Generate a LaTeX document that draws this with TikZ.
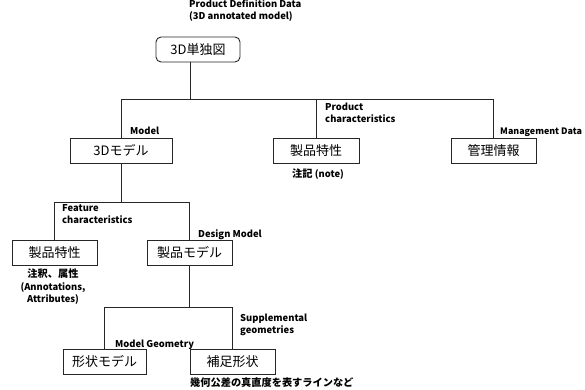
\documentclass[tikz,border=0pt]{standalone}
\usepackage{fontspec}
\setmainfont{Noto Sans CJK JP}
\newfontfamily\jpfont{Noto Sans CJK JP}
\begin{document}
\begin{tikzpicture}[x=1pt,y=-1pt,
  box/.style={draw=black!85,line width=0.9pt,inner sep=0pt,minimum height=25pt,font=\jpfont\fontsize{13}{15}\selectfont},
  lbl/.style={inner sep=0pt,anchor=base west,align=left,font=\jpfont\bfseries\fontsize{9.4}{12}\selectfont},
  jlbl/.style={lbl,font=\jpfont\bfseries\fontsize{10.2}{12}\selectfont},
  conn/.style={draw=black!85,line width=0.8pt}]
\useasboundingbox (0,0) rectangle (585,390);
% nodes
\node[box,rounded corners=5pt,minimum width=84pt] (top) at (198,49.5) {3D単独図};
\node[box,minimum width=102pt] (m3d) at (121,150.5) {3Dモデル};
\node[box,minimum width=86pt] (pc) at (316,150.5) {製品特性};
\node[box,minimum width=85pt] (mg) at (493.5,151) {管理情報};
\node[box,minimum width=85pt] (fc) at (54.5,252.5) {製品特性};
\node[box,minimum width=85pt] (dm) at (189.5,252.5) {製品モデル};
\node[box,minimum width=83pt] (gm) at (104.5,361.5) {形状モデル};
\node[box,minimum width=85pt] (sg) at (232.5,361.5) {補足形状};
% bus coordinates
\coordinate (bus1) at (190,99);
\coordinate (bus2) at (122,202);
\coordinate (bus3) at (190,307);
% connectors
\draw[conn] (top.south -| bus1) -- (bus1);
\draw[conn] (m3d.north) |- (mg.north |- bus1) -- (mg.north);
\draw[conn] (pc.north) -- (pc.north |- bus1);
\draw[conn] (m3d.south) -- (m3d.south |- bus2);
\draw[conn] (fc.north) |- (dm.north |- bus2) -- (dm.north);
\draw[conn] (dm.south) -- (dm.south |- bus3);
\draw[conn] (gm.north) |- (sg.north |- bus3) -- (sg.north);
% labels
\node[lbl] (l0) at (189,20) {Product Definition Data\\(3D annotated model)};
\node[lbl] (l1) at (130,135) {Model};
\node[lbl] (l2) at (325,123) {Product\\characteristics};
\node[lbl,font=\jpfont\bfseries\fontsize{8.9}{12}\selectfont] (l3) at (500,135) {Management Data};
\node[jlbl] (l4) at (292,177) {注記 {\fontsize{9.4}{12}\selectfont(note)}};
\node[lbl] (l5) at (62,223) {Feature\\characteristics};
\node[lbl] (l6) at (198,237) {Design Model};
\node[lbl,align=center,anchor=north] (l7) at (53,269) {{\fontsize{10.2}{12}\selectfont 注釈、属性}\\[1pt](Annotations,\\Attributes)};
\node[lbl] (l8) at (115,347) {Model Geometry};
\node[lbl] (l9) at (240,333) {Supplemental\\geometries};
\node[jlbl] (l10) at (190,386) {幾何公差の真直度を表すラインなど};
\end{tikzpicture}
\end{document}
